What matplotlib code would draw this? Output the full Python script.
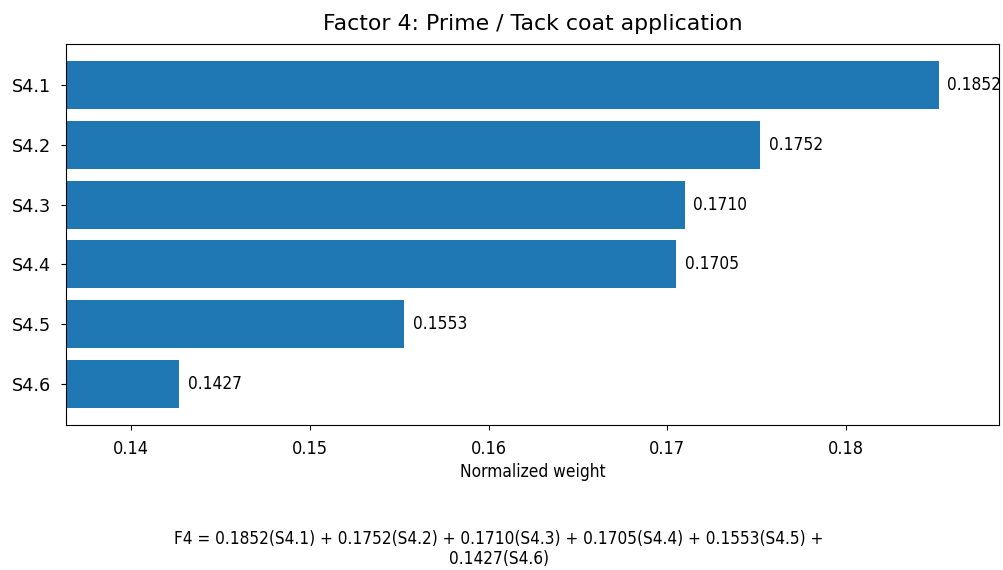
import matplotlib.pyplot as plt

# 数据
labels = ["S4.1", "S4.2", "S4.3", "S4.4", "S4.5", "S4.6"]
weights = [0.1852, 0.1752, 0.1710, 0.1705, 0.1553, 0.1427]
x_ticks = [0.14, 0.15, 0.16, 0.17, 0.18]

fig = plt.figure(figsize=(10.04, 5.7), dpi=100)
ax = fig.add_axes([0.0657, 0.2544, 0.9293, 0.6684])

bars = ax.barh(labels, weights, color="#1f77b4")
ax.invert_yaxis()
ax.bar_label(bars, labels=["%.4f" % w for w in weights], padding=6,
             fontsize=12.4, fontstretch="condensed", clip_on=False)

ax.set_xlim(0.13636, 0.18856)
ax.set_xticks(x_ticks)
ax.set_xticklabels([str(t) for t in x_ticks], fontsize=13, fontstretch="condensed")
ax.tick_params(axis="x", pad=7)
ax.tick_params(axis="y", labelsize=12.7, pad=7)
ax.set_xlabel("Normalized weight", fontsize=12.4, fontstretch="condensed", labelpad=4)
ax.set_title("Factor 4: Prime / Tack coat application", fontsize=15.8, pad=10)

# 公式
eq = " + ".join("%.4f(%s)" % (w, l) for w, l in zip(weights[:5], labels[:5]))
eq = "F4 = " + eq + " +\n" + "%.4f(%s)" % (weights[5], labels[5])
fig.text(0.497, 0.003, eq, ha="center", va="bottom", fontsize=12.3,
         fontstretch="condensed", linespacing=1.15)

fig.savefig("out.png")
